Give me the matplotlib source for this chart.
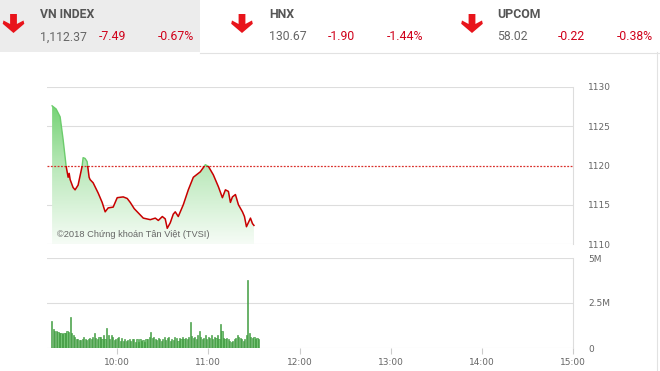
import numpy as np
import matplotlib
matplotlib.use("Agg")
import matplotlib.pyplot as plt
from matplotlib.patches import Polygon, Rectangle
from matplotlib.colors import LinearSegmentedColormap

# ---------------- data ----------------
price_time = [9.286, 9.330, 9.374, 9.407, 9.440, 9.462, 9.473, 9.484, 9.516, 9.538,
              9.571, 9.615, 9.626, 9.648, 9.670, 9.692, 9.703, 9.736, 9.791, 9.835,
              9.868, 9.901, 9.956, 9.978, 10.000, 10.066, 10.110, 10.143, 10.187, 10.220,
              10.286, 10.363, 10.418, 10.451, 10.495, 10.527, 10.549, 10.582, 10.615, 10.637,
              10.670, 10.725, 10.780, 10.835, 10.879, 10.912, 10.967, 11.000, 11.055, 11.110,
              11.154, 11.187, 11.220, 11.242, 11.264, 11.297, 11.330, 11.374, 11.396, 11.418,
              11.462, 11.484, 11.500]
price_value = [1127.6, 1127.2, 1126.2, 1123.3, 1119.9, 1118.5, 1119.0, 1118.2, 1117.2, 1116.9,
               1117.5, 1119.9, 1121.0, 1120.9, 1120.5, 1118.5, 1118.2, 1117.8, 1116.5, 1115.3,
               1114.1, 1114.6, 1114.7, 1115.3, 1115.9, 1116.0, 1115.8, 1115.3, 1114.5, 1114.1,
               1113.3, 1113.1, 1113.3, 1113.0, 1113.5, 1113.2, 1112.0, 1112.7, 1113.8, 1114.1,
               1113.5, 1115.0, 1116.9, 1118.5, 1118.9, 1119.2, 1120.1, 1119.9, 1118.8, 1117.3,
               1115.9, 1116.9, 1116.7, 1115.3, 1116.0, 1116.3, 1115.0, 1114.1, 1113.5, 1112.2,
               1113.3, 1112.6, 1112.37]
reference_price = 1120.0

# volume per minute (millions of shares), first bar at 9:17
volume_start_minute = 9 * 60 + 17
volume_m = [1.51, 1.08, 0.97, 0.94, 0.90, 0.85, 0.81, 0.79, 0.85, 0.85,
            0.97, 0.90, 1.74, 0.85, 0.75, 0.61, 0.52, 0.49, 0.47, 0.43,
            0.52, 0.63, 0.52, 0.45, 0.49, 0.58, 0.49, 0.63, 0.81, 0.58,
            0.49, 0.63, 0.63, 0.52, 0.70, 0.49, 1.12, 0.75, 0.49, 0.70,
            0.63, 0.45, 0.49, 0.58, 0.63, 0.40, 0.58, 0.40, 0.52, 0.40,
            0.45, 0.49, 0.40, 0.49, 0.52, 0.36, 0.49, 0.31, 0.49, 0.40,
            0.45, 0.36, 0.52, 0.49, 0.63, 0.90, 0.58, 0.63, 0.52, 0.45,
            0.58, 0.49, 0.40, 0.52, 0.63, 0.45, 0.58, 0.63, 0.40, 0.52,
            0.45, 0.63, 0.58, 0.40, 0.58, 0.49, 0.63, 0.49, 0.58, 0.52,
            0.63, 1.42, 0.67, 0.58, 0.63, 0.49, 0.75, 0.94, 0.63, 0.52,
            0.58, 0.70, 0.49, 0.63, 0.58, 0.75, 0.52, 0.63, 0.58, 0.70,
            0.52, 1.35, 0.94, 0.58, 0.52, 0.58, 0.52, 0.40, 0.31, 0.40,
            0.49, 0.58, 0.70, 0.63, 0.58, 0.49, 0.40, 0.52, 0.75, 3.78,
            0.85, 0.63, 0.58, 0.63, 0.49, 0.58, 0.52]

time_ticks = [10, 11, 12, 13, 14, 15]
time_labels = ["10:00", "11:00", "12:00", "13:00", "14:00", "15:00"]
price_ticks = [1110, 1115, 1120, 1125, 1130]
vol_ticks = [0, 2.5, 5]
vol_labels = ["0", "2.5M", "5M"]

indices = [
    ("VN INDEX", "1,112.37", "-7.49", "-0.67%"),
    ("HNX", "130.67", "-1.90", "-1.44%"),
    ("UPCOM", "58.02", "-0.22", "-0.38%"),
]

# ---------------- figure ----------------
W, H = 660, 371
fig = plt.figure(figsize=(W / 100, H / 100), dpi=100)
fig.patch.set_facecolor("white")

bg = fig.add_axes([0, 0, 1, 1], zorder=-1)
bg.set_xlim(0, W)
bg.set_ylim(H, 0)
bg.axis("off")

# header
bg.add_patch(Rectangle((0, 0), 200, 52, facecolor="#ececec", edgecolor="none"))
bg.plot([200, 660], [52.5, 52.5], color="#e2e2e2", lw=0.8)
bg.plot([657, 657], [52, H], color="#e2e2e2", lw=0.8)

red = "#d0021b"
arrow_x = [13.5, 242, 472]
label_x = [40, 269, 497]
chg_x = [99, 328, 558]
pct_x = [158, 387, 617]


def draw_arrow(cx, y0, y1):
    ym = y0 + (y1 - y0) * 0.42
    pts = [(cx - 3.4, y0), (cx + 3.4, y0), (cx + 3.4, ym + 2), (cx + 10, ym - 1.5),
           (cx + 10.8, ym + 1.8), (cx, y1), (cx - 10.8, ym + 1.8), (cx - 10, ym - 1.5),
           (cx - 3.4, ym + 2)]
    bg.add_patch(Polygon(pts, closed=True, facecolor="#e8141b", edgecolor="none"))


hfont = ["Roboto", "DejaVu Sans"]
for i, (name, val, chg, pct) in enumerate(indices):
    draw_arrow(arrow_x[i], 14, 33)
    bg.text(label_x[i], 15, name, fontsize=8.8, fontweight="bold", color="#555555",
            va="center", ha="left", family=hfont)
    bg.text(label_x[i], 37, val, fontsize=8.8, color="#666666", va="center", ha="left",
            family=hfont)
    bg.text(chg_x[i], 37, chg, fontsize=8.8, color=red, va="center", ha="left", family=hfont)
    bg.text(pct_x[i], 37, pct, fontsize=8.8, color=red, va="center", ha="left", family=hfont)

# axes geometry (pixels)
x_left, x_right = 47, 573
top_y0, top_y1 = 87, 244
bot_y0, bot_y1 = 258, 348
xlim = (9.23, 15.0)

ax = fig.add_axes([x_left / W, 1 - top_y1 / H, (x_right - x_left) / W, (top_y1 - top_y0) / H])
axv = fig.add_axes([x_left / W, 1 - bot_y1 / H, (x_right - x_left) / W, (bot_y1 - bot_y0) / H])

grid_c = "#dddddd"
lab_c = "#666666"

# ---- price panel ----
ax.set_facecolor("none")
t = np.array(price_time)
p = np.array(price_value)

for yv in price_ticks:
    if yv != reference_price:
        ax.axhline(yv, color=grid_c, lw=0.8, zorder=0)

verts = list(zip(t, p)) + [(t[-1], 1110), (t[0], 1110)]
poly = Polygon(verts, closed=True, facecolor="none", edgecolor="none",
               transform=ax.transData)
ax.add_patch(poly)
cmap = LinearSegmentedColormap.from_list(
    "g", [(0, "#f6fcf6"), (0.5, "#bfeabf"), (1.0, "#72d272")])
grad = np.linspace(0, 1, 256).reshape(-1, 1)
im = ax.imshow(grad, extent=[t[0], t[-1], 1110, 1128], origin="lower",
               aspect="auto", cmap=cmap, zorder=1)
im.set_clip_path(poly)

ax.axhline(reference_price, color="#d9302c", lw=0.9, ls=(0, (1.5, 1.2)), zorder=2)

below = Rectangle((xlim[0], 1100), 10, reference_price - 1100, transform=ax.transData)
above = Rectangle((xlim[0], reference_price), 10, 20, transform=ax.transData)
l1, = ax.plot(t, p, color="#c80000", lw=1.1, zorder=3)
l1.set_clip_path(below)
l2, = ax.plot(t, p, color="#6ccc6c", lw=1.0, zorder=3)
l2.set_clip_path(above)

ax.set_xlim(*xlim)
ax.set_ylim(1110, 1130)
ax.set_yticks(price_ticks)
ax.yaxis.tick_right()
ax.tick_params(axis="y", length=0, pad=11, labelsize=6.5, labelcolor=lab_c)
ax.set_xticks([])
for s in ["left", "top", "bottom"]:
    ax.spines[s].set_visible(False)
ax.spines["right"].set_color(grid_c)
ax.spines["right"].set_linewidth(0.8)

ax.text(9.345, 1110.9, "©2018 Chứng khoán Tân Việt (TVSI)", fontsize=6.7,
        color="#666666", family=["Liberation Sans", "DejaVu Sans"], zorder=4)

# ---- volume panel ----
axv.set_facecolor("none")
vt = np.array([(volume_start_minute + i) / 60 for i in range(len(volume_m))])
for yv in vol_ticks:
    axv.axhline(yv, color=grid_c, lw=0.8, zorder=0)
axv.bar(vt, volume_m, width=0.75 / 60, color="#74c474", edgecolor="#2f8f2f",
        linewidth=0.4, zorder=2, align="center")
axv.set_xlim(*xlim)
axv.set_ylim(0, 5)
axv.set_yticks(vol_ticks)
axv.set_yticklabels(vol_labels)
axv.yaxis.tick_right()
axv.tick_params(axis="y", length=0, pad=11, labelsize=6.5, labelcolor=lab_c)
axv.set_xticks(time_ticks)
axv.set_xticklabels(time_labels)
axv.tick_params(axis="x", length=4, width=0.8, color="#cccccc", labelsize=6.5,
                labelcolor=lab_c, pad=3)
for s in ["left", "top", "bottom"]:
    axv.spines[s].set_visible(False)
axv.spines["right"].set_color(grid_c)
axv.spines["right"].set_linewidth(0.8)

fig.savefig("out.png", dpi=100, facecolor="white")
